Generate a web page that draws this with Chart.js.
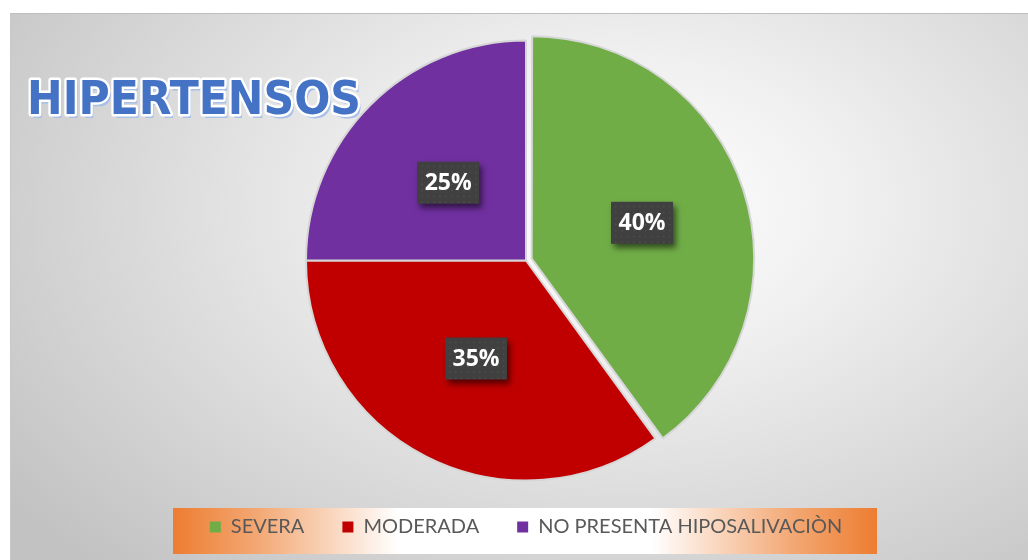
<!DOCTYPE html>
<html lang="es">
<head>
<meta charset="UTF-8">
<script src="https://cdn.jsdelivr.net/npm/chart.js"></script>
<title>Hipertensos</title>
<style>
  body { margin: 0; background: #fff; }
  #box {
    position: absolute; left: 10px; top: 13px; width: 1018px; height: 547px;
    border-top: 1px solid #bdbdbd; border-left: 1px solid #c8c8c8;
    background: radial-gradient(ellipse 75% 90% at 60% 35%, #ffffff 0%, #f0f0f0 30%, #c2c2c2 100%);
  }
</style>
</head>
<body>
<div id="box"><canvas id="pie"></canvas></div>
<script>
// data
var categories = ['SEVERA', 'MODERADA', 'NO PRESENTA HIPOSALIVACIÒN'];
var percents = [40, 35, 25];
var sliceColors = ['#70AD47', '#C00000', '#7030A0'];
var titleText = 'HIPERTENSOS';

// orange legend strip behind the legend items
var legendBg = {
  id: 'legendBg',
  beforeDraw: function (chart) {
    var ctx = chart.ctx;
    var x0 = 162, x1 = 866, y0 = 494, y1 = 540;
    var g = ctx.createLinearGradient(x0, 0, x1, 0);
    g.addColorStop(0, '#ED7D31');
    g.addColorStop(0.12, '#f3a874');
    g.addColorStop(0.32, '#ffffff');
    g.addColorStop(0.68, '#ffffff');
    g.addColorStop(0.88, '#f3a874');
    g.addColorStop(1, '#ED7D31');
    ctx.save();
    ctx.fillStyle = g;
    ctx.fillRect(x0, y0, x1 - x0, y1 - y0);
    ctx.restore();
  }
};

// percent boxes on slices + big title
var sliceLabels = {
  id: 'sliceLabels',
  afterDatasetsDraw: function (chart) {
    var ctx = chart.ctx;
    var ds = chart.data.datasets[0];
    var total = ds.data.reduce(function (a, b) { return a + b; }, 0);
    chart.getDatasetMeta(0).data.forEach(function (arc, i) {
      var p = arc.tooltipPosition();
      var txt = Math.round(ds.data[i] / total * 100) + '%';
      var w = 62, h = 42;
      ctx.save();
      ctx.shadowColor = 'rgba(0,0,0,0.55)';
      ctx.shadowBlur = 6;
      ctx.shadowOffsetX = 3;
      ctx.shadowOffsetY = 4;
      ctx.fillStyle = '#404040';
      ctx.fillRect(p.x - w / 2, p.y - h / 2, w, h);
      ctx.restore();
      // little dot texture
      ctx.save();
      ctx.fillStyle = 'rgba(255,255,255,0.08)';
      for (var dx = 4; dx < w; dx += 6) {
        for (var dy = 4; dy < h; dy += 6) {
          ctx.fillRect(p.x - w / 2 + dx, p.y - h / 2 + dy, 1.5, 1.5);
        }
      }
      ctx.fillStyle = '#ffffff';
      ctx.font = 'bold 23px "Open Sans", "DejaVu Sans", sans-serif';
      ctx.textAlign = 'center';
      ctx.textBaseline = 'middle';
      ctx.fillText(txt, p.x, p.y + 1);
      ctx.restore();
    });

    // title
    ctx.save();
    ctx.font = 'bold 46px "DejaVu Sans", sans-serif';
    ctx.textBaseline = 'alphabetic';
    ctx.textAlign = 'left';
    var tw = ctx.measureText(titleText).width;
    ctx.translate(16, 100);
    ctx.scale(334 / tw, 1);
    ctx.lineJoin = 'round';
    ctx.fillStyle = '#a8bfe6';
    ctx.fillText(titleText, 3, 4);
    ctx.strokeStyle = '#ffffff';
    ctx.lineWidth = 5;
    ctx.strokeText(titleText, 0, 0);
    ctx.fillStyle = '#4472C4';
    ctx.fillText(titleText, 0, 0);
    ctx.restore();
  }
};

var ctx = document.getElementById('pie').getContext('2d');
var chart = new Chart(ctx, {
  type: 'pie',
  data: {
    labels: categories,
    datasets: [{
      data: percents,
      backgroundColor: sliceColors,
      borderColor: '#d6d6d6',
      borderWidth: 2,
      offset: [24, 0, 0]
    }]
  },
  options: {
    responsive: true,
    maintainAspectRatio: false,
    animation: false,
    radius: 220,
    layout: { padding: { left: 12, right: 0, top: 28, bottom: 14 } },
    plugins: {
      title: { display: false },
      tooltip: { enabled: false },
      legend: {
        position: 'bottom',
        labels: {
          boxWidth: 11,
          boxHeight: 11,
          padding: 38,
          color: '#595959',
          font: { family: '"Liberation Sans Narrow", Lato, sans-serif', size: 20 },
          generateLabels: function (chart) {
            var items = Chart.controllers.pie.overrides.plugins.legend.labels.generateLabels(chart);
            items.forEach(function (it) { it.lineWidth = 0; it.strokeStyle = it.fillStyle; });
            return items;
          }
        }
      }
    }
  },
  plugins: [legendBg, sliceLabels]
});
</script>
</body>
</html>
